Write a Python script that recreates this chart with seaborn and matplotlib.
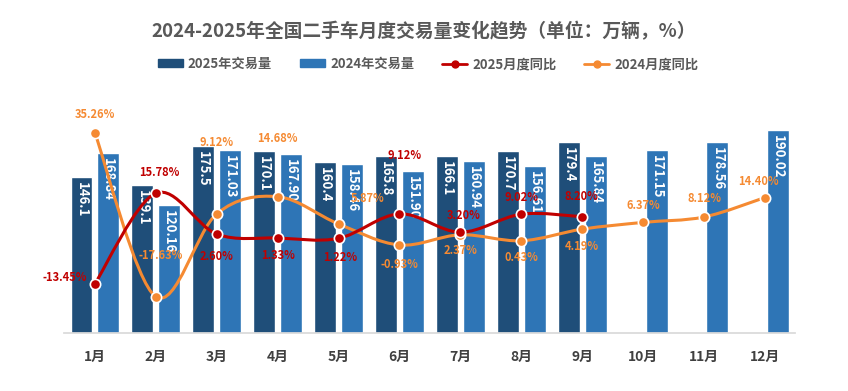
import numpy as np
import pandas as pd
import matplotlib
matplotlib.use("Agg")
import matplotlib.pyplot as plt
import seaborn as sns
from matplotlib.path import Path
from matplotlib.patches import PathPatch, Patch
from matplotlib.lines import Line2D

months = ["1月", "2月", "3月", "4月", "5月", "6月", "7月", "8月", "9月", "10月", "11月", "12月"]
vol_2025 = [146.1, 139.1, 175.5, 170.1, 160.4, 165.8, 166.1, 170.7, 179.4]
vol_2024 = [168.84, 120.16, 171.03, 167.90, 158.46, 151.90, 160.94, 156.61, 165.84, 171.15, 178.56, 190.02]
yoy_2025 = [-13.45, 15.78, 2.60, 1.33, 1.22, 9.12, 3.20, 9.02, 8.20]
yoy_2024 = [35.26, -17.63, 9.12, 14.68, 5.87, -0.93, 2.37, 0.43, 4.19, 6.37, 8.12, 14.40]

# label offsets in pixels (dx, dy up)
off_2025 = [(-30, 6), (3, 21), (0, -22), (0, -18), (2, -19), (5, 58), (3, 17), (0, 17), (-1, 20)]
off_2024 = [(0, 18), (5, 41), (0, 71), (0, 58), (29, 25), (0, -20), (0, -16), (0, -17),
            (0, -17), (0, 17), (0, 18), (-7, 16)]

C25_BAR = "#1F4E79"
C24_BAR = "#2E75B6"
C25_LINE = "#C00000"
C24_LINE = "#F58A32"
GREY = "#595959"

sns.set_theme(style="white")
plt.rcParams["font.family"] = ["Noto Sans CJK SC", "DejaVu Sans"]

df = pd.DataFrame({
    "month": months * 2,
    "year": ["2025"] * 12 + ["2024"] * 12,
    "vol": vol_2025 + [np.nan] * (12 - len(vol_2025)) + vol_2024,
})

fig = plt.figure(figsize=(8.48, 3.91), dpi=100)
ax = fig.add_axes([0.076, 0.148, 0.862, 0.601])

sns.barplot(data=df, x="month", y="vol", hue="year", order=months,
            hue_order=["2025", "2024"], palette=[C25_BAR, C24_BAR],
            width=0.88, gap=0.18, saturation=1, legend=False, ax=ax)

ax.set_xlim(-0.5, 11.5)
ax.set_ylim(0, 220)
ax.set_xlabel("")
ax.set_ylabel("")
ax.set_yticks([])
for s in ["top", "left", "right"]:
    ax.spines[s].set_visible(False)
ax.spines["bottom"].set_color("#D9D9D9")
ax.tick_params(axis="x", length=0, pad=12)
for t in ax.get_xticklabels():
    t.set_fontsize(10)
    t.set_fontweight("bold")
    t.set_color("#404040")

# bar value labels
for cont, fmt in zip(ax.containers, ["{:.1f}", "{:.2f}"]):
    for bar in cont:
        h = bar.get_height()
        if np.isnan(h) or h == 0:
            continue
        ax.annotate(fmt.format(h), (bar.get_x() + bar.get_width() / 2, h),
                    xytext=(0, -5), textcoords="offset pixels",
                    ha="center", va="top", rotation=-90, color="white",
                    fontsize=9.5, fontweight="bold")

ax2 = ax.twinx()
ax2.set_ylim(-29.4, 46.5)
ax2.set_yticks([])
for s in ax2.spines.values():
    s.set_visible(False)


def smooth_path(xs, ys, t=1 / 6):
    xs = np.asarray(xs, float)
    ys = np.asarray(ys, float)
    n = len(xs)
    verts = [(xs[0], ys[0])]
    codes = [Path.MOVETO]
    for i in range(n - 1):
        p0 = i - 1 if i > 0 else i
        p3 = i + 2 if i + 2 < n else i + 1
        c1 = (xs[i] + (xs[i + 1] - xs[p0]) * t, ys[i] + (ys[i + 1] - ys[p0]) * t)
        c2 = (xs[i + 1] - (xs[p3] - xs[i]) * t, ys[i + 1] - (ys[p3] - ys[i]) * t)
        verts += [c1, c2, (xs[i + 1], ys[i + 1])]
        codes += [Path.CURVE4] * 3
    return Path(verts, codes)


for vals, color, offs in [(yoy_2024, C24_LINE, off_2024), (yoy_2025, C25_LINE, off_2025)]:
    xs = np.arange(len(vals))
    ax2.add_patch(PathPatch(smooth_path(xs, vals), facecolor="none", edgecolor=color,
                            lw=2.2, zorder=3))
    sns.scatterplot(x=xs, y=vals, ax=ax2, color=color, s=55, edgecolor="white",
                    linewidth=1.2, zorder=4, legend=False)
    for x, v, (dx, dy) in zip(xs, vals, offs):
        ax2.annotate(f"{v:.2f}%", (x, v), xytext=(dx, dy), textcoords="offset pixels",
                     ha="center", va="center", color=color, fontsize=8,
                     fontweight="bold", zorder=5)

fig.text(0.5, 0.918, "2024-2025年全国二手车月度交易量变化趋势（单位：万辆，%）",
         ha="center", va="center", fontsize=13.5, fontweight="bold", color=GREY)

handles = [
    Patch(color=C25_BAR, label="2025年交易量"),
    Patch(color=C24_BAR, label="2024年交易量"),
    Line2D([], [], color=C25_LINE, lw=2, marker="o", markersize=5, label="2025月度同比"),
    Line2D([], [], color=C24_LINE, lw=2, marker="o", markersize=5, label="2024月度同比"),
]
fig.legend(handles=handles, loc="center", bbox_to_anchor=(0.505, 0.836), ncol=4,
           frameon=False, handlelength=1.9, handleheight=0.55, handletextpad=0.4,
           columnspacing=2.1, prop={"size": 9.5, "weight": "bold"}, labelcolor=GREY)

fig.savefig("out.png", dpi=100)
